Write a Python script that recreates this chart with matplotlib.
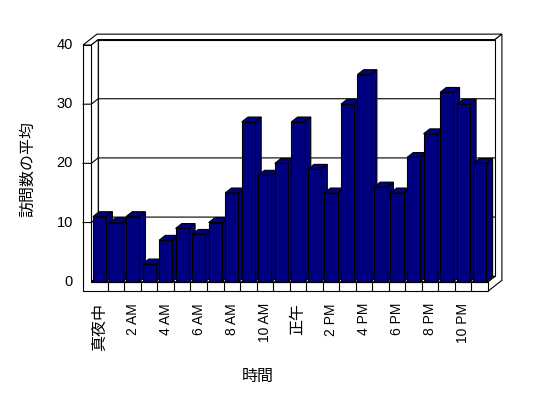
import matplotlib
matplotlib.use('Agg')
import matplotlib.pyplot as plt
from matplotlib.patches import Polygon

plt.rcParams['font.family'] = ['Liberation Sans', 'Noto Sans CJK JP']

# average visits per hour (midnight .. 11 PM)
visits = [11, 10, 11, 3, 7, 9, 8, 10, 15, 27, 18, 20,
          27, 19, 15, 30, 35, 16, 15, 21, 25, 32, 30, 20]
tick_labels = ['真夜中', '2 AM', '4 AM', '6 AM', '8 AM', '10 AM',
               '正午', '2 PM', '4 PM', '6 PM', '8 PM', '10 PM']
y_ticks = [0, 10, 20, 30, 40]
x_title = '時間'
y_title = '訪問数の平均'

NAVY = '#000080'
DX, DY = 0.42, 0.92      # oblique offset for one depth unit
WALL = 0.5               # left wall thickness
FLOOR = 1.6              # floor thickness
BAR_W = 0.8
BAR_D = 0.9
LW = 0.8


def P(x, y, z):
    return (x + z * DX, y + z * DY)


def face(ax, pts, fc='white', zo=1):
    ax.add_patch(Polygon(pts, closed=True, facecolor=fc, edgecolor='black',
                         linewidth=LW, joinstyle='miter', zorder=zo))


fig = plt.figure(figsize=(5.48, 3.98), dpi=100)
ax = fig.add_axes([0, 0, 1, 1])
# pixel calibration: category 0 left edge at x=91.3px, 16.53 px/category;
# value 0 at y=281.7px, 5.917 px per unit
ax.set_xlim(-91.3 / 16.53, (548 - 91.3) / 16.53)
ax.set_ylim((281.7 - 398) / 5.917, 281.7 / 5.917)
ax.axis('off')

n = len(visits)
top = y_ticks[-1]

# walls and floor
face(ax, [P(-WALL, top, 0), P(0, top, 0), P(0, top, 1), P(n, top, 1),
          P(n, top, 2), P(-WALL, top, 2)])
face(ax, [P(n, 0, 0), P(n, -FLOOR, 0), P(n, -FLOOR, 2), P(n, top, 2),
          P(n, top, 1), P(n, 0, 1)])
face(ax, [P(0, 0, 1), P(n, 0, 1), P(n, top, 1), P(0, top, 1)])
face(ax, [P(0, 0, 0), P(0, 0, 1), P(0, top, 1), P(0, top, 0)])
face(ax, [P(0, 0, 0), P(n, 0, 0), P(n, 0, 1), P(0, 0, 1)])
face(ax, [P(-WALL, -FLOOR, 0), P(n, -FLOOR, 0), P(n, 0, 0), P(0, 0, 0),
          P(0, top, 0), P(-WALL, top, 0)])

# gridlines
for v in y_ticks[1:-1]:
    pts = [P(-WALL, v, 0), P(0, v, 0), P(0, v, 1), P(n, v, 1)]
    ax.plot([p[0] for p in pts], [p[1] for p in pts], color='black',
            lw=LW, zorder=1.5)

# category dividers on the floor front
for i in range(1, n):
    a, b = P(i, -FLOOR, 0), P(i, 0, 0)
    ax.plot([a[0], b[0]], [a[1], b[1]], color='black', lw=LW, zorder=1.5)

# bars
xs = [i + (1 - BAR_W) / 2 for i in range(n)]
bars = ax.bar(xs, visits, width=BAR_W, align='edge', color=NAVY,
              edgecolor='black', linewidth=LW)
for i, (x0, v) in enumerate(zip(xs, visits)):
    x1 = x0 + BAR_W
    zo = 3 + i * 0.01
    face(ax, [P(x1, 0, 0), P(x1, v, 0), P(x1, v, BAR_D), P(x1, 0, BAR_D)],
         fc=NAVY, zo=zo)
    face(ax, [P(x0, v, 0), P(x1, v, 0), P(x1, v, BAR_D), P(x0, v, BAR_D)],
         fc=NAVY, zo=zo)
    bars[i].set_zorder(zo + 0.005)
    bars[i].set_joinstyle('miter')

# tick labels
for v in y_ticks:
    ax.text(-WALL - 0.6, v, str(v), ha='right', va='center', fontsize=10.5)

for k, lab in enumerate(tick_labels):
    cjk = not lab[0].isdigit()
    ax.text(2 * k + 0.5, -3.6, lab, rotation=90, ha='center', va='top',
            fontsize=11.5 if cjk else 10,
            family='Noto Sans CJK JP' if cjk else 'Liberation Sans')

ax.text(-3.83, 19.05, y_title, rotation=90, ha='center', va='center',
        fontsize=11.5, family='Noto Sans CJK JP')
ax.text(10.08, -16.1, x_title, ha='center', va='center',
        fontsize=11.5, family='Noto Sans CJK JP')

fig.savefig('out.png', dpi=100)
